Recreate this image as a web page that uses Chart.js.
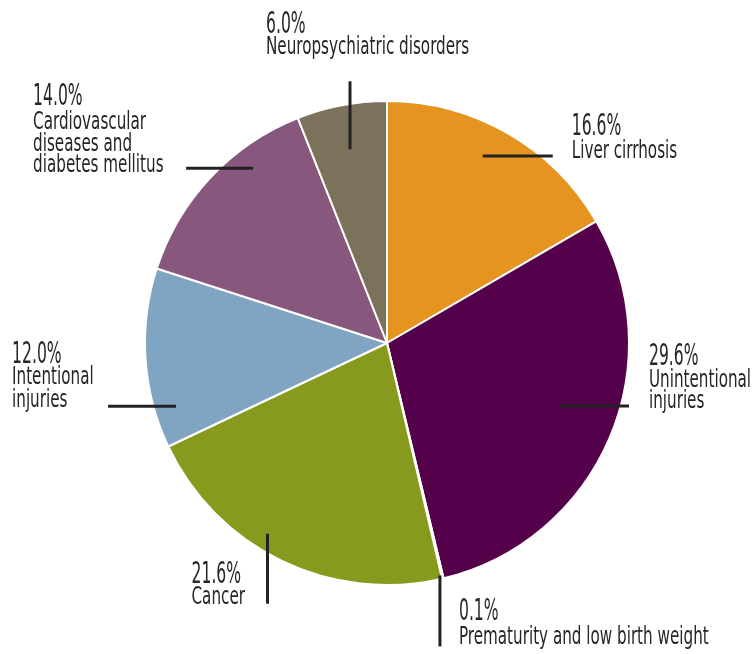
<!DOCTYPE html>
<html lang="en">
<head>
    <meta charset="utf-8">
    <title>Causes</title>
    <script src="https://cdn.jsdelivr.net/npm/chart.js@4/dist/chart.umd.min.js"></script>
    <style>
        body { margin: 0; background: #fff; }
        canvas { display: block; }
    </style>
</head>
<body>
<canvas id="myChart" width="756" height="654"></canvas>

<script>
    // values, clockwise from 12 o'clock
    var categories = ['Liver cirrhosis', 'Unintentional injuries', 'Prematurity and low birth weight',
                      'Cancer', 'Intentional injuries',
                      'Cardiovascular diseases and diabetes mellitus', 'Neuropsychiatric disorders'];
    var shares = [16.6, 29.6, 0.1, 21.6, 12.0, 14.0, 6.0];
    var nameLines = [
        ['Liver cirrhosis'],
        ['Unintentional', 'injuries'],
        ['Prematurity and low birth weight'],
        ['Cancer'],
        ['Intentional', 'injuries'],
        ['Cardiovascular', 'diseases and', 'diabetes mellitus'],
        ['Neuropsychiatric disorders']
    ];
    var colours = ['#E5951F', '#55004B', '#A3A3A3', '#879A1E', '#80A5C2', '#87577D', '#7C725C'];

    // leader line + text placement for each slice
    // da: shift from mid angle (deg), rf: start radius as fraction, dir/len: line, tx: text x, pb/nb: baselines
    var callouts = [
        { da: -2.8, rf: 0.868, dir: 'right', len: 70, tx: 19,   pb: -21, nb: [2] },
        { da: -3.0, rf: 0.757, dir: 'right', len: 70, tx: 20,   pb: -41, nb: [-19, 2] },
        { da: 0.5,  rf: 0.985, dir: 'down',  len: 71, tx: 19,   pb: -26, nb: [-2] },
        { da: 6.3,  rf: 0.93,  dir: 'down',  len: 70, tx: -76,  pb: -21, nb: [0] },
        { da: -13,  rf: 0.91,  dir: 'left',  len: 68, tx: -96,  pb: -43, nb: [-22, 1] },
        { da: 9.4,  rf: 0.91,  dir: 'left',  len: 67, tx: -153, pb: -63, nb: [-39, -17, 4] },
        { da: 0,    rf: 0.815, dir: 'up',    len: 68, tx: -84,  pb: -48, nb: [-27] }
    ];

    var FONT = '"Liberation Sans Narrow", "Arial Narrow", "DejaVu Sans Condensed", sans-serif';

    function squeezedText(ctx, txt, x, y, size, sx) {
        ctx.save();
        ctx.font = size + 'px ' + FONT;
        ctx.translate(x, y);
        ctx.scale(sx, 1);
        ctx.fillText(txt, 0, 0);
        ctx.restore();
    }

    var calloutPlugin = {
        id: 'callouts',
        afterDatasetsDraw: function (chart) {
            var ctx = chart.ctx;
            var arcs = chart.getDatasetMeta(0).data;
            ctx.save();
            ctx.strokeStyle = '#222';
            ctx.fillStyle = '#262626';
            ctx.lineWidth = 3;
            ctx.textBaseline = 'alphabetic';
            ctx.textAlign = 'left';
            arcs.forEach(function (arc, i) {
                var c = callouts[i];
                var p = arc.getProps(['x', 'y', 'startAngle', 'endAngle', 'outerRadius'], true);
                var a = (p.startAngle + p.endAngle) / 2 + c.da * Math.PI / 180;
                var r = p.outerRadius * c.rf;
                var x0 = p.x + Math.cos(a) * r;
                var y0 = p.y + Math.sin(a) * r;
                var x1 = x0, y1 = y0;
                if (c.dir === 'right') x1 += c.len;
                if (c.dir === 'left') x1 -= c.len;
                if (c.dir === 'down') y1 += c.len;
                if (c.dir === 'up') y1 -= c.len;
                ctx.beginPath();
                ctx.moveTo(x0, y0);
                ctx.lineTo(x1, y1);
                ctx.stroke();

                var tx = x1 + c.tx;
                squeezedText(ctx, shares[i].toFixed(1) + '%', tx, y1 + c.pb, 31, 0.56);
                nameLines[i].forEach(function (line, k) {
                    squeezedText(ctx, line, tx, y1 + c.nb[k], 25, 0.675);
                });
            });
            ctx.restore();
        }
    };

    var ctx = document.getElementById('myChart').getContext('2d');
    var chart = new Chart(ctx, {
        type: 'pie',
        data: {
            labels: categories,
            datasets: [{
                data: shares,
                backgroundColor: colours,
                borderColor: '#fff',
                borderWidth: 2
            }]
        },
        options: {
            responsive: false,
            animation: false,
            devicePixelRatio: 1,
            layout: { padding: { top: 100, bottom: 68, left: 144, right: 126 } },
            plugins: {
                legend: { display: false },
                tooltip: { enabled: false }
            }
        },
        plugins: [calloutPlugin]
    });
</script>
</body>
</html>
